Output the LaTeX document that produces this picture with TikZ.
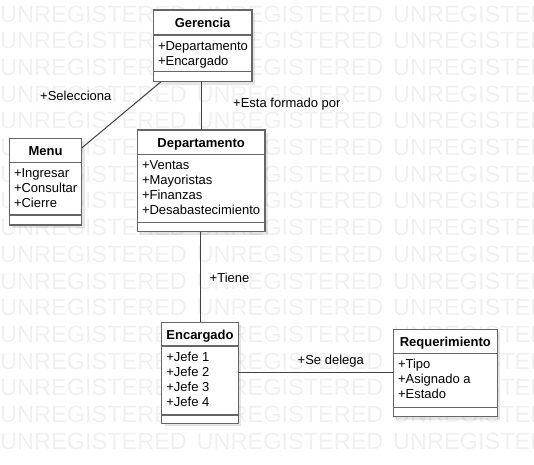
\documentclass[tikz,border=0pt]{standalone}
\usepackage{fontspec}
\setmainfont{Liberation Sans}
\definecolor{wm}{RGB}{240,240,240}
\definecolor{boxc}{RGB}{102,102,102}
\definecolor{linec}{RGB}{64,64,64}
\tikzset{
 classframe/.style={draw=boxc, line width=1.5pt, fill=white, inner sep=0pt, outer sep=0pt, anchor=north west},
 sepline/.style={draw=boxc, line width=1.5pt},
 shadowbox/.style={fill=black, opacity=0.1},
 titletext/.style={font=\fontsize{13}{15}\selectfont\bfseries, inner sep=0pt, anchor=base},
 attrtext/.style={font=\fontsize{13}{15}\selectfont, inner sep=0pt, anchor=base west},
 conn/.style={draw=linec, line width=1pt},
 lbl/.style={font=\fontsize{13}{15}\selectfont, inner sep=0pt, anchor=base west},
 wmtext/.style={font=\fontsize{23.5}{25}\selectfont, text=wm, inner sep=0pt, anchor=base west},
}
% #1 name, #2 left, #3 top, #4 right, #5 header separator, #6 attribute separator, #7 bottom, #8 title, #9 attributes
\newcommand\classbox[9]{%
 \fill[shadowbox] (#2+3,#3+3) rectangle (#4+3,#7+3);
 \node[classframe, minimum width={(#4-#2)*1pt}, minimum height={(#7-#3)*1pt}] (#1) at (#2,#3) {};
 \draw[sepline] (#2,#5) -- (#4,#5);
 \draw[sepline] (#2,#6) -- (#4,#6);
 \node[titletext] (#1-title) at ({(#2+#4)/2},{#3+17.5}) {#8};
 \foreach \a [count=\i] in {#9} {\node[attrtext] (#1-a\i) at ({#2+4.5},{#5+15*\i}) {\a};}
}
\begin{document}
\begin{tikzpicture}[x=1pt,y=-1pt]
\useasboundingbox (0,0) rectangle (534,464);
\begin{scope}
\clip (0,0) rectangle (534,464);
\foreach \k in {0,...,16} {
  \foreach \c in {0,1,2} {
    \node[wmtext] (wm-\k-\c) at ({196.5*\c},{22+26.7*\k}) {UNREGISTERED};
  }
}
\end{scope}

\classbox{ger}{153.3}{10}{252}{35}{71.7}{81.7}{Gerencia}{+Departamento,+Encargado}
\classbox{menu}{9.3}{138.3}{81.7}{162.3}{215}{225}{Menu}{+Ingresar,+Consultar,+Cierre}
\classbox{dep}{137.3}{130}{265}{154.3}{222.3}{231.7}{Departamento}{+Ventas,+Mayoristas,+Finanzas,+Desabastecimiento}
\classbox{enc}{161.7}{322.3}{238.3}{346}{415}{423.3}{Encargado}{+Jefe 1,+Jefe 2,+Jefe 3,+Jefe 4}
\classbox{req}{393.3}{329.3}{497.3}{353.3}{407.3}{416.7}{Requerimiento}{+Tipo,+Asignado a,+Estado}

\draw[conn] (ger.south -| 161,0) -- (menu.east |- 0,148);
\draw[conn] (ger.south -| 201.5,0) -- (dep.north -| 201.5,0);
\draw[conn] (dep.south -| 200.5,0) -- (enc.north -| 200.5,0);
\draw[conn] (enc.east |- 0,372) -- (req.west |- 0,372);

\node[lbl] (l-sel) at (40,100.5) {+Selecciona};
\node[lbl] (l-est) at (233,107.8) {+Esta formado por};
\node[lbl] (l-tie) at (209.5,282.5) {+Tiene};
\node[lbl] (l-del) at (297.5,364.5) {+Se delega};
\end{tikzpicture}
\end{document}
